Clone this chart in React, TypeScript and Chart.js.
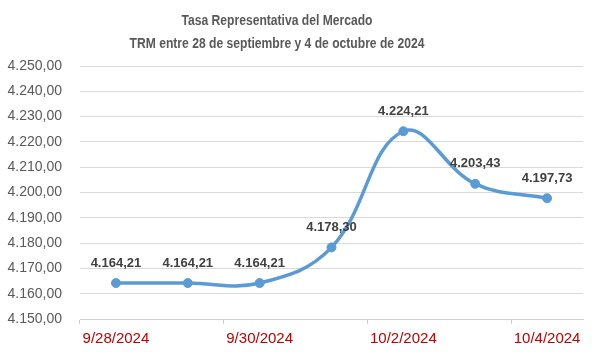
import React, { useEffect, useRef } from "react";
import { Chart, registerables } from "chart.js";

Chart.register(...registerables);

const categories = ["9/28/2024", "9/29/2024", "9/30/2024", "10/1/2024", "10/2/2024", "10/3/2024", "10/4/2024"];
const trmValues = [4164.21, 4164.21, 4164.21, 4178.3, 4224.21, 4203.43, 4197.73];
const titleLines = ["Tasa Representativa del Mercado", "TRM entre 28 de septiembre y 4 de octubre de 2024"];
const yMin = 4150;
const yMax = 4250;
const yStep = 10;

function fmt(v: number): string {
  const [i, d] = v.toFixed(2).split(".");
  return i.replace(/\B(?=(\d{3})+(?!\d))/g, ".") + "," + d;
}

const titlePlugin = {
  id: "customTitle",
  afterDraw(chart: any) {
    const ctx = chart.ctx;
    ctx.save();
    ctx.fillStyle = "#595959";
    ctx.font = "bold 14px 'Liberation Sans', sans-serif";
    ctx.textAlign = "center";
    ctx.textBaseline = "middle";
    const ys = [21, 44];
    titleLines.forEach((t, i) => {
      ctx.save();
      ctx.translate(277, ys[i]);
      ctx.scale(0.865, 1);
      ctx.fillText(t, 0, 0);
      ctx.restore();
    });
    ctx.restore();
  },
};

const dataLabelPlugin = {
  id: "dataLabels",
  afterDatasetsDraw(chart: any) {
    const ctx = chart.ctx;
    const meta = chart.getDatasetMeta(0);
    const data = chart.data.datasets[0].data as number[];
    ctx.save();
    ctx.fillStyle = "#404040";
    ctx.font = "bold 13px 'Liberation Sans', sans-serif";
    ctx.textAlign = "center";
    ctx.textBaseline = "middle";
    meta.data.forEach((pt: any, i: number) => {
      ctx.fillText(fmt(data[i]), pt.x, pt.y - 20);
    });
    ctx.restore();
  },
};

export default function App() {
  const ref = useRef<HTMLCanvasElement | null>(null);
  useEffect(() => {
    if (!ref.current) return;
    const chart = new Chart(ref.current, {
      type: "line",
      data: {
        labels: categories,
        datasets: [
          {
            data: trmValues,
            borderColor: "#5b9bd5",
            backgroundColor: "#5b9bd5",
            borderWidth: 3.5,
            pointRadius: 4.5,
            pointBorderWidth: 1,
            pointBackgroundColor: "#5b9bd5",
            pointBorderColor: "#5b9bd5",
            tension: 0.4,
            fill: false,
          },
        ],
      },
      options: {
        animation: false,
        responsive: true,
        maintainAspectRatio: false,
        layout: { padding: { top: 66, right: 18, bottom: 0, left: 0 } },
        plugins: {
          legend: { display: false },
          title: { display: false },
          tooltip: { enabled: false },
        },
        scales: {
          x: {
            offset: true,
            afterFit: (s: any) => {
              s.height = 33;
            },
            grid: {
              offset: true,
              drawOnChartArea: false,
              drawTicks: true,
              tickLength: 5,
              color: (c: any) => (c.index % 2 === 0 ? "#d0d0d0" : "rgba(0,0,0,0)"),
              tickColor: (c: any) => (c.index % 2 === 0 ? "#d0d0d0" : "rgba(0,0,0,0)"),
            },
            border: { display: true, color: "#d0d0d0", width: 1 },
            ticks: {
              autoSkip: false,
              maxRotation: 0,
              padding: 6,
              color: "#c00000",
              font: { family: "'Liberation Sans', sans-serif", size: 15 },
              callback: (_v: any, i: number) => (i % 2 === 0 ? categories[i] : ""),
            },
          },
          y: {
            min: yMin,
            max: yMax,
            afterFit: (s: any) => {
              s.width = 80;
            },
            grid: { color: "#d9d9d9", drawTicks: false, lineWidth: 1 },
            border: { display: false },
            ticks: {
              stepSize: yStep,
              padding: 18,
              color: "#595959",
              font: { family: "'Liberation Sans', sans-serif", size: 14 },
              callback: (v: any) => fmt(Number(v)),
            },
          },
        },
      },
      plugins: [titlePlugin, dataLabelPlugin],
    });
    return () => chart.destroy();
  }, []);
  return (
    <div style={{ position: "absolute", left: 0, top: 0, width: 601, height: 352, background: "#fff" }}>
      <canvas ref={ref} />
    </div>
  );
}
